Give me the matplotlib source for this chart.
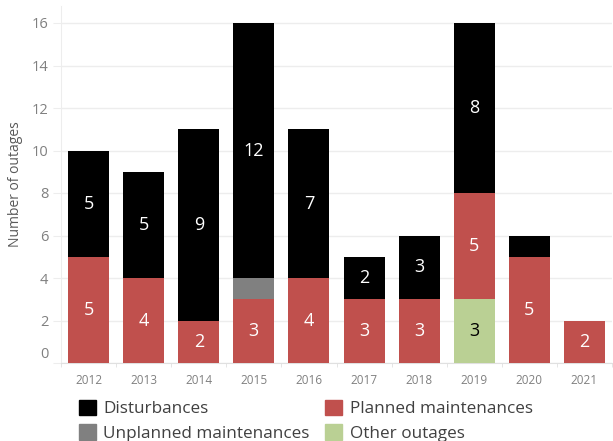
import numpy as np
import matplotlib
matplotlib.use('Agg')
import matplotlib.pyplot as plt
import matplotlib.transforms as mtransforms
from matplotlib.patches import Patch

years = ['2012', '2013', '2014', '2015', '2016', '2017', '2018', '2019', '2020', '2021']
other = [0, 0, 0, 0, 0, 0, 0, 3, 0, 0]
planned = [5, 4, 2, 3, 4, 3, 3, 5, 5, 2]
unplanned = [0, 0, 0, 1, 0, 0, 0, 0, 0, 0]
disturbances = [5, 5, 9, 12, 7, 2, 3, 8, 1, 0]
# which segments carry a number label
label_dist = [True, True, True, True, True, True, True, True, False, False]

c_planned = '#c0504d'
c_unplanned = '#808080'
c_other = '#bad094'
c_dist = '#000000'

plt.rcParams['font.family'] = ['Open Sans', 'DejaVu Sans']

fig = plt.figure(figsize=(6.13, 4.41), dpi=100)
ax = fig.add_axes([61 / 613, 78 / 441, 551 / 613, 357 / 441])

x = np.arange(len(years))
w = 0.745
other = np.array(other)
planned = np.array(planned)
unplanned = np.array(unplanned)
disturbances = np.array(disturbances)

# stacking order: other outages, planned, unplanned, disturbances
ax.bar(x, other, w, color=c_other, zorder=3)
ax.bar(x, planned, w, bottom=other, color=c_planned, zorder=3)
ax.bar(x, unplanned, w, bottom=other + planned, color=c_unplanned, zorder=3)
ax.bar(x, disturbances, w, bottom=other + planned + unplanned, color=c_dist, zorder=3)

for i in range(len(years)):
    if other[i] > 0:
        ax.text(x[i], other[i] / 2, str(other[i]), ha='center', va='center',
                color='black', fontsize=13, zorder=4)
    if planned[i] > 0:
        ax.text(x[i], other[i] + planned[i] / 2, str(planned[i]), ha='center', va='center',
                color='white', fontsize=13, zorder=4)
    if label_dist[i] and disturbances[i] > 0:
        base = other[i] + planned[i] + unplanned[i]
        ax.text(x[i], base + disturbances[i] / 2, str(disturbances[i]),
                ha='center', va='center', color='white', fontsize=13, zorder=4)

ax.set_xlim(-0.5, len(years) - 0.5)
ax.set_ylim(0, 16.8)
ax.set_yticks(range(0, 17, 2))
ax.set_xticks(x)
ax.set_xticklabels(years)
ax.set_xticks(np.arange(-0.5, len(years), 1), minor=True)

ax.grid(axis='y', color='#ededed', linewidth=1, zorder=0)
for s in ['top', 'right']:
    ax.spines[s].set_visible(False)
ax.spines['left'].set_color('#ededed')
ax.spines['bottom'].set_color('#e0e0e0')
ax.tick_params(axis='y', colors='#ededed', labelcolor='#808080', labelsize=10.5, length=6, pad=3)
ax.tick_params(axis='x', which='major', length=0, labelcolor='#808080', labelsize=8.5, pad=8)
ax.tick_params(axis='x', which='minor', length=3, color='#e0e0e0')

ax.set_ylabel('Number of outages', color='#595959', fontsize=10, labelpad=6)

# shift the "0" label up a bit like the original
lab0 = ax.get_yticklabels()[0]
lab0.set_transform(lab0.get_transform() + mtransforms.ScaledTranslation(0, 0.1, fig.dpi_scale_trans))

handles = [Patch(color=c_dist), Patch(color=c_unplanned),
           Patch(color=c_planned), Patch(color=c_other)]
names = ['Disturbances', 'Unplanned maintenances', 'Planned maintenances', 'Other outages']
fig.legend(handles, names, ncol=2, loc='lower left', bbox_to_anchor=(70 / 613, -0.021),
           frameon=False, fontsize=12.3, handlelength=1.0, handleheight=1.0,
           handletextpad=0.45, columnspacing=0.9, labelspacing=0.4,
           labelcolor='#404040', borderaxespad=0.1)

fig.savefig('out.png', dpi=100)
